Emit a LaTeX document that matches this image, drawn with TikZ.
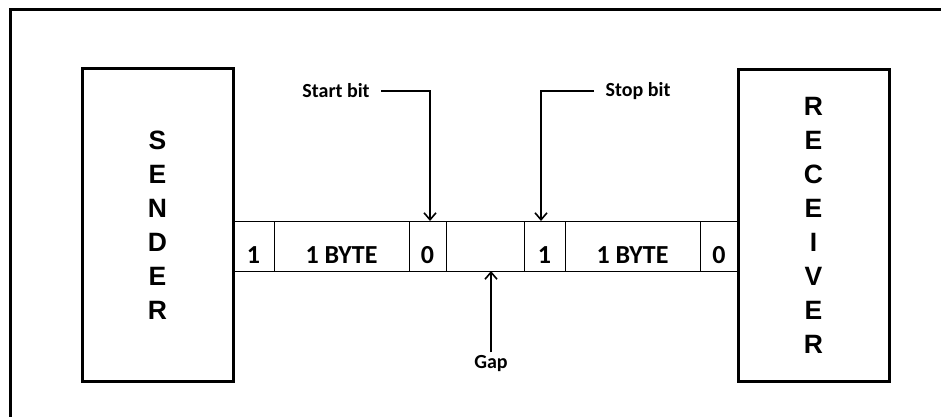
\documentclass[tikz,border=0pt]{standalone}
\usepackage{fontspec}
\setmainfont{Carlito}
\newfontfamily\headfont{Liberation Sans}
\usetikzlibrary{arrows.meta,positioning}

\begin{document}
\begin{tikzpicture}[x=1pt,y=-1pt,dev/.style={draw, line width=3pt, minimum width=151pt, minimum height=312pt, inner sep=0pt, align=center, font=\headfont\bfseries\fontsize{26.5}{34}\selectfont},cell/.style={draw, line width=0.8pt, minimum height=50pt, text height=42pt, text depth=8pt, inner sep=0pt, outer sep=0pt, font=\bfseries\fontsize{26}{28}\selectfont},lbl/.style={font=\bfseries\fontsize{20}{24}\selectfont},arr/.style={line width=1.6pt, -{Straight Barb[length=7pt,width=12pt]}}]
\useasboundingbox (0,0) rectangle (941,417);
\draw[line width=3pt] (10,425) |- (950,10);
\node[cell, minimum width=41pt, anchor=west] (b1) at (233,246) {1};
\node[cell, minimum width=135pt, right=0pt of b1] (b2) {1 BYTE};
\node[cell, minimum width=37pt, right=0pt of b2] (b3) {0};
\node[cell, minimum width=78pt, right=0pt of b3] (b4) {};
\node[cell, minimum width=41pt, right=0pt of b4] (b5) {1};
\node[cell, minimum width=135pt, right=0pt of b5] (b6) {1 BYTE};
\node[cell, minimum width=38pt, right=0pt of b6] (b7) {0};
\node[dev, fill=white] (sender) at (157.5,225) {S\\E\\N\\D\\E\\R};
\node[dev, fill=white] (receiver) at (813.5,225.5) {R\\E\\C\\E\\I\\V\\E\\R};
\node[lbl] (start) at (336,91) {Start bit};
\node[lbl] (stop) at (638,91) {Stop bit};
\node[lbl] (gap) at (491,364) {Gap};
\draw[arr] ([xshift=8pt]start.east) -| ([xshift=2.5pt]b3.north);
\draw[arr] ([xshift=-8pt]stop.west) -| ([xshift=-3.5pt]b5.north);
\draw[arr] (gap.north) -- (gap.north |- b4.south);
\end{tikzpicture}
\end{document}
